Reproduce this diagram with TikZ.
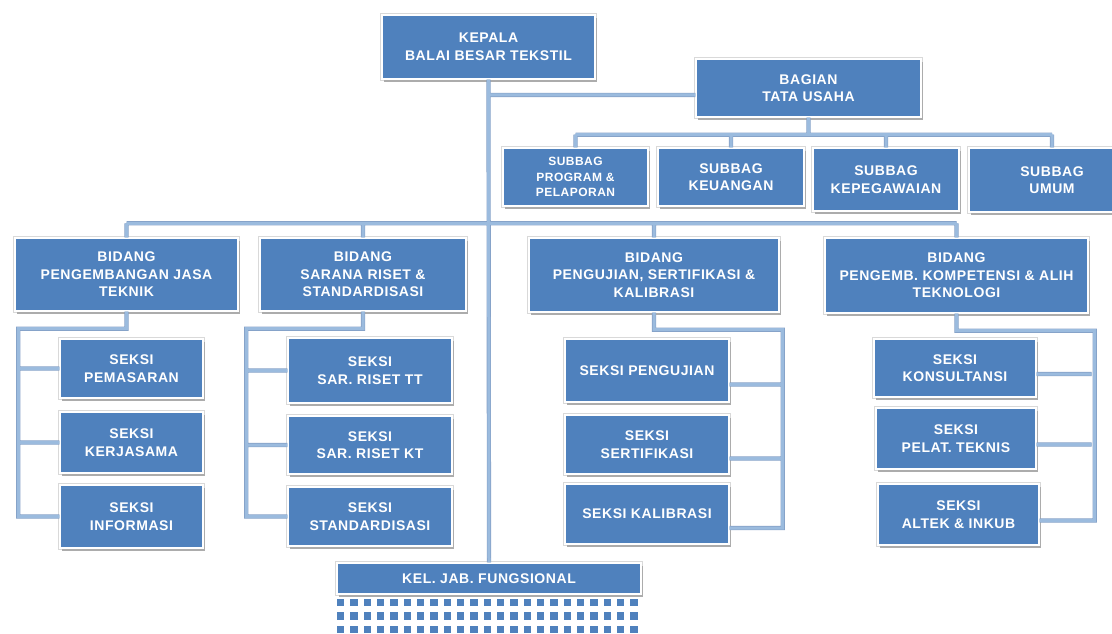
\documentclass[tikz,border=0pt]{standalone}
\usepackage{fontspec}
\usepackage{tikz}
\usetikzlibrary{positioning,calc,shadows}
\newfontfamily\orgfont[LetterSpace=4]{Liberation Sans}
\definecolor{boxblue}{RGB}{79,129,189}
\definecolor{lineblue}{RGB}{155,187,222}
\definecolor{lineedge}{RGB}{132,160,198}

\begin{document}
\begin{tikzpicture}[x=1pt,y=-1pt,
    orgbox/.style={fill=boxblue, draw=white, line width=1.4pt, text=white,
      align=center, inner sep=0pt,
      font=\orgfont\bfseries\fontsize{14}{17.5}\selectfont,
      preaction={draw=gray!30, line width=3.6pt},
      drop shadow={shadow xshift=1.5pt, shadow yshift=-3pt, fill=gray!65, opacity=1}},
    small/.style={font=\orgfont\bfseries\fontsize{12}{15.5}\selectfont},
    link/.style={draw=lineedge, line width=0.6pt, double=lineblue, double distance=3pt}]
  \useasboundingbox (0,0) rectangle (1112,634);

  % ── Pimpinan ──
  \node[orgbox, minimum width=213, minimum height=64] (kepala) at (488.5,47) {KEPALA\\BALAI BESAR TEKSTIL};
  \node[orgbox, minimum width=225, minimum height=58] (bagian) at (808.5,88) {BAGIAN\\TATA USAHA};

  % ── Subbagian ──
  \node[orgbox, small, minimum width=145, minimum height=58] (sb1) at (575.5,177) {SUBBAG\\PROGRAM \&\\PELAPORAN};
  \node[orgbox, minimum width=146, minimum height=58] (sb2) at (731,177) {SUBBAG\\KEUANGAN};
  \node[orgbox, minimum width=146, minimum height=63] (sb3) at (886,179.5) {SUBBAG\\KEPEGAWAIAN};
  \node[orgbox, minimum width=166, minimum height=64] (sb4) at (1052,180) {SUBBAG\\UMUM};

  % ── Bidang ──
  \node[orgbox, minimum width=223, minimum height=73] (bid1) at (126.5,274.5) {BIDANG\\PENGEMBANGAN JASA\\TEKNIK};
  \node[orgbox, minimum width=206, minimum height=73] (bid2) at (363,274.5) {BIDANG\\SARANA RISET \&\\STANDARDISASI};
  \node[orgbox, minimum width=250, minimum height=74] (bid3) at (654,275) {BIDANG\\PENGUJIAN, SERTIFIKASI \&\\KALIBRASI};
  \node[orgbox, minimum width=263, minimum height=75] (bid4) at (956.5,275.5) {BIDANG\\PENGEMB. KOMPETENSI \& ALIH\\TEKNOLOGI};

  % ── Seksi ──
  \node[orgbox, minimum width=143, minimum height=59] (pj1) at (131.5,368.5) {SEKSI\\PEMASARAN};
  \node[orgbox, minimum width=143, minimum height=61] (pj2) at (131.5,442.5) {SEKSI\\KERJASAMA};
  \node[orgbox, minimum width=143, minimum height=63] (pj3) at (131.5,516.5) {SEKSI\\INFORMASI};

  \node[orgbox, minimum width=164, minimum height=65] (sr1) at (370,370.5) {SEKSI\\SAR. RISET TT};
  \node[orgbox, minimum width=164, minimum height=58] (sr2) at (370,445) {SEKSI\\SAR. RISET KT};
  \node[orgbox, minimum width=164, minimum height=59] (sr3) at (370,516.5) {SEKSI\\STANDARDISASI};

  \node[orgbox, minimum width=164, minimum height=63] (ps1) at (647,370.5) {SEKSI PENGUJIAN};
  \node[orgbox, minimum width=164, minimum height=59] (ps2) at (647,444.5) {SEKSI\\SERTIFIKASI};
  \node[orgbox, minimum width=164, minimum height=60] (ps3) at (647,514) {SEKSI KALIBRASI};

  \node[orgbox, minimum width=162, minimum height=58] (kt1) at (955,368) {SEKSI\\KONSULTANSI};
  \node[orgbox, minimum width=160, minimum height=61] (kt2) at (956,438.5) {SEKSI\\PELAT. TEKNIS};
  \node[orgbox, minimum width=161, minimum height=61] (kt3) at (958.5,514.5) {SEKSI\\ALTEK \& INKUB};

  % ── Kelompok jabatan fungsional ──
  \node[orgbox, minimum width=304, minimum height=31] (kel) at (489,578.5) {KEL. JAB. FUNGSIONAL};
  \foreach \c in {0,...,22}
    \foreach \r in {0,1,2}
      \fill[boxblue] (337+\c*13.33,599+\r*13.4) rectangle ++(7.4,7.4);

  % ── Garis komando (one path, so the joints stay clean) ──
  \coordinate (tu) at ([yshift=-7pt]bagian.west);
  \draw[link]
    (kepala.south) -- (kel.north)
    (tu) -- (tu -| kepala.south)
    (bagian.south) -- ++(0,17) coordinate (sbus)
    (sbus -| sb1.north) -- (sbus -| sb4.north)
    \foreach \s in {sb1,sb2,sb3,sb4} {(sbus -| \s.north) -- (\s.north)}
    (bid1.north) ++(0,-14) coordinate (bbus)
    (bbus) -- (bbus -| bid4.north)
    \foreach \s in {bid1,bid2,bid3,bid4} {(bbus -| \s.north) -- (\s.north)}
    % seksi, rail on the left
    (bid1.south) -- ++(0,17) -| ([xshift=-41pt]pj3.west) -- (pj3.west)
    \foreach \s in {pj1,pj2} {([xshift=-41pt]\s.west) -- (\s.west)}
    (bid2.south) -- ++(0,17) -| ([xshift=-41pt]sr3.west) -- (sr3.west)
    \foreach \s in {sr1,sr2} {([xshift=-41pt]\s.west) -- (\s.west)}
    % seksi, rail on the right
    (bid3.south) -- ++(0,17) -| ([xshift=53pt,yshift=-14pt]ps3.east) -- ([yshift=-14pt]ps3.east)
    \foreach \s in {ps1,ps2} {([xshift=53pt,yshift=-14pt]\s.east) -- ([yshift=-14pt]\s.east)}
    (bid4.south) -- ++(0,17) -| ([xshift=55pt,yshift=-6pt]kt3.east) -- ([yshift=-6pt]kt3.east)
    \foreach \s in {kt1,kt2} {([xshift=55pt,yshift=-6pt]\s.east) -- ([yshift=-6pt]\s.east)};
\end{tikzpicture}
\end{document}
